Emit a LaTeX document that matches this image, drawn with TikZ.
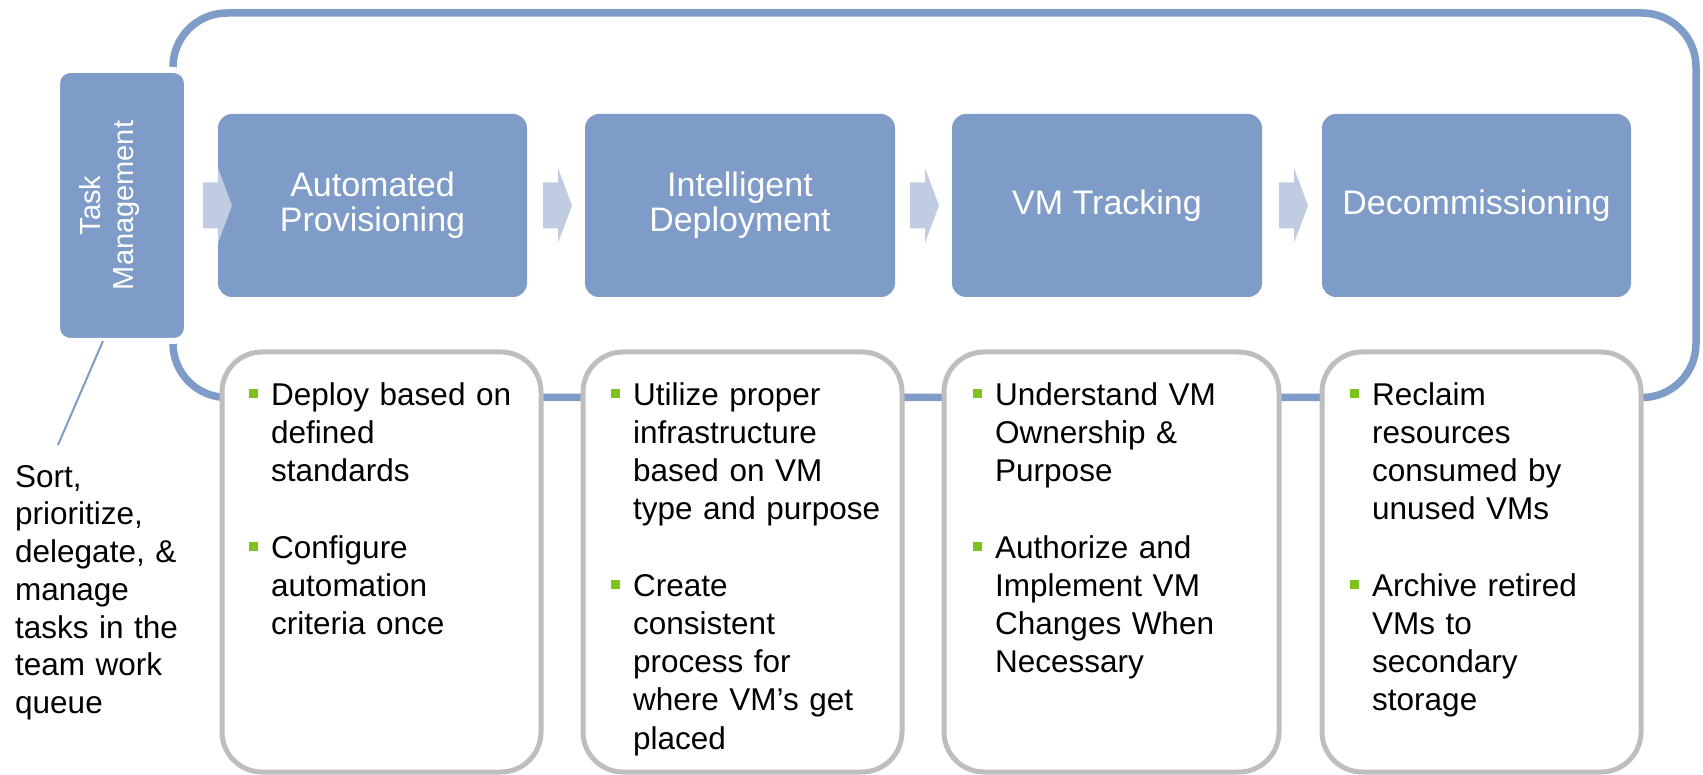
\documentclass[tikz,border=0pt]{standalone}
\usepackage{fontspec}
\setmainfont{Liberation Sans}
\usetikzlibrary{calc}
\definecolor{boxblue}{RGB}{127,155,199}
\definecolor{arrowblue}{RGB}{191,204,225}
\definecolor{framegray}{RGB}{190,190,190}
\definecolor{bulgreen}{RGB}{127,194,30}
\newcommand{\bul}{\llap{\textcolor{bulgreen}{\rule[7pt]{9pt}{9pt}}\hspace{13pt}}}
\newcommand{\topstrut}{\rule{0pt}{25pt}}
\newcommand{\chevat}[1]{\fill[chev] (#1,182.5) -- ++(15,0) -- ++(0,-14.5) -- ++(14,37.5) -- ++(-14,37.5) -- ++(0,-14.5) -- ++(-15,0) -- cycle;}
\begin{document}
\begin{tikzpicture}[x=1pt,y=-1pt,
  stagebox/.style={fill=boxblue, rounded corners=14pt, minimum height=183pt, inner sep=0pt, text=white, align=center, font=\fontsize{34}{35}\selectfont},
  detailbox/.style={fill=white, draw=framegray, line width=5pt, rounded corners=40pt, minimum height=420pt, inner sep=0pt},
  detailtext/.style={anchor=north west, text width=300pt, align=left, inner sep=0pt, font=\fontsize{31.5}{38.2}\selectfont},
  chev/.style={fill=arrowblue},
  bigframe/.style={draw=boxblue, line width=7.5pt, rounded corners=54pt},
  taskbox/.style={fill=boxblue, draw=white, line width=6pt, rounded corners=13pt, minimum width=130pt, minimum height=271pt, inner sep=0pt, outer sep=0pt},
  tasktext/.style={rotate=90, align=center, text=white, inner sep=0pt, font=\fontsize{29}{33.3}\selectfont},
  notetext/.style={anchor=north west, text width=200pt, align=left, inner sep=0pt, font=\fontsize{31.5}{37.7}\selectfont},
  noteline/.style={draw=boxblue, line width=2pt}
]
\useasboundingbox (0,0) rectangle (1703,775);
% outer frame
\draw[bigframe] (173,13) rectangle (1696,397.5);
% task management
\node[taskbox] (task) at (122,205.5) {};
\node[tasktext] (tasklabel) at (109.5,205.5) {Task\\Management};
% stage boxes
\node[stagebox, minimum width=309pt] (s1) at (372.5,205.5) {Automated\\Provisioning};
\node[stagebox, minimum width=310pt] (s2) at (740,205.5) {Intelligent\\Deployment};
\node[stagebox, minimum width=310pt] (s3) at (1107,205.5) {VM Tracking};
\node[stagebox, minimum width=309pt] (s4) at (1476.5,205.5) {Decommissioning};
% chevrons
\chevat{203}
\chevat{543}
\chevat{910}
\chevat{1279}
% detail boxes
\node[detailbox, minimum width=319pt] (d1) at (381.5,562) {};
\node[detailbox, minimum width=319pt] (d2) at (742.5,562) {};
\node[detailbox, minimum width=335pt] (d3) at (1111.5,562) {};
\node[detailbox, minimum width=319pt] (d4) at (1481.5,562) {};
\node[detailtext] (t1a) at (271,380) {\bul\topstrut Deploy based on\\defined\\standards};
\node[detailtext] (t1b) at (271,532.8) {\bul\topstrut Configure\\automation\\criteria once};
\node[detailtext] (t2a) at (633,380) {\bul\topstrut Utilize proper\\infrastructure\\based on VM\\type and purpose};
\node[detailtext] (t2b) at (633,571) {\bul\topstrut Create\\consistent\\process for\\where VM’s get\\placed};
\node[detailtext] (t3a) at (995,380) {\bul\topstrut Understand VM\\Ownership \&\\Purpose};
\node[detailtext] (t3b) at (995,532.8) {\bul\topstrut Authorize and\\Implement VM\\Changes When\\Necessary};
\node[detailtext] (t4a) at (1372,380) {\bul\topstrut Reclaim\\resources\\consumed by\\unused VMs};
\node[detailtext] (t4b) at (1372,571) {\bul\topstrut Archive retired\\VMs to\\secondary\\storage};
% note
\node[notetext] (note) at (15,462) {\topstrut Sort,\\prioritize,\\delegate, \&\\manage\\tasks in the\\team work\\queue};
\coordinate (noteend) at (58,445);
\draw[noteline] (task.-98) -- (noteend);
\end{tikzpicture}
\end{document}
